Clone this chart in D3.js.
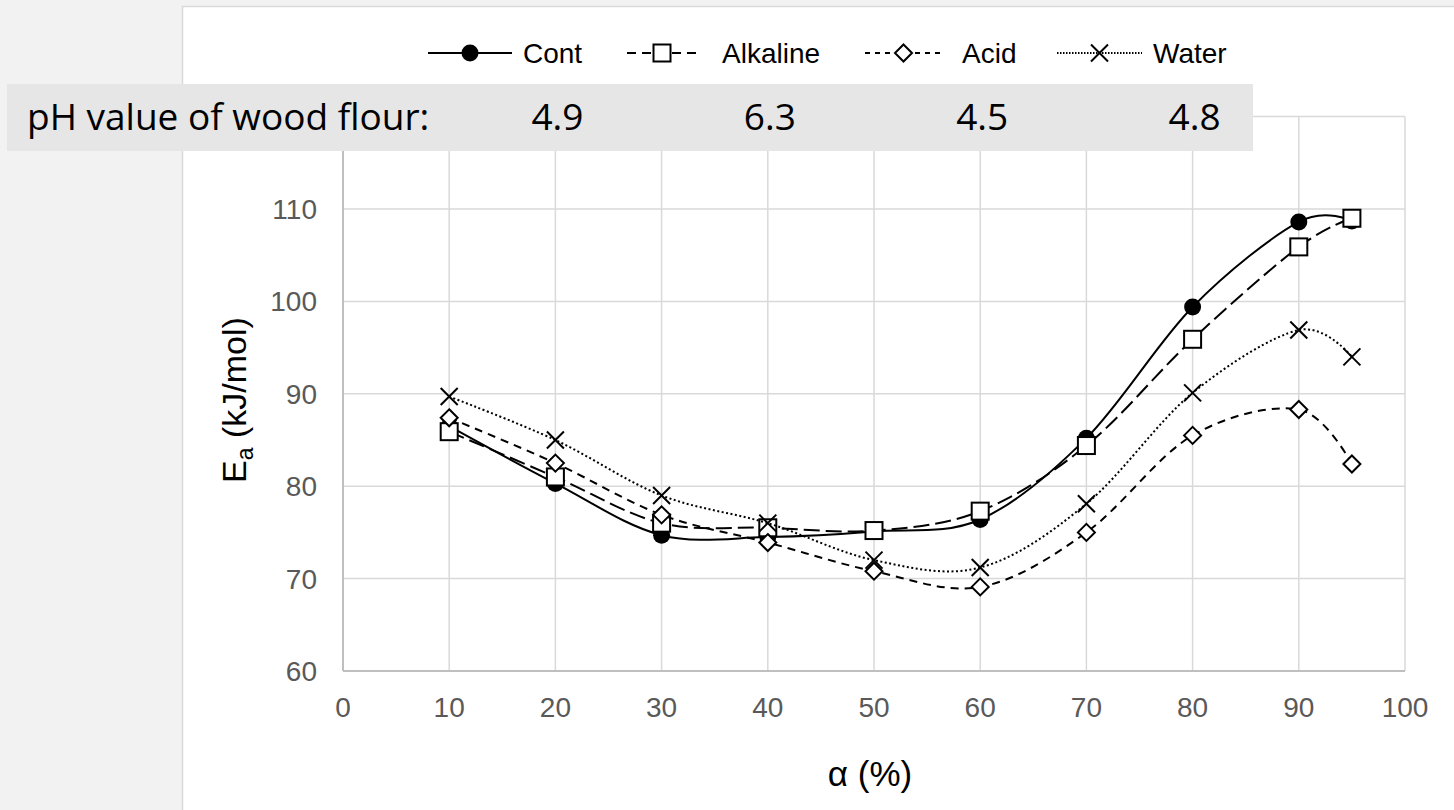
<!DOCTYPE html>
<html>
<head>
<meta charset="utf-8">
<script src="https://cdn.jsdelivr.net/npm/d3@7"></script>
<style>
  html, body { margin: 0; padding: 0; background: #f2f2f2; }
  svg { display: block; }
</style>
</head>
<body>
<div id="chart"></div>
<script>
(function () {
  "use strict";
  // conversion (%) and activation energy per treatment
  var alpha = [10, 20, 30, 40, 50, 60, 70, 80, 90, 95];
  var cont = [86.5, 80.3, 74.7, 74.5, 75.1, 76.4, 85.2, 99.4, 108.6, 108.7];
  var alkaline = [85.9, 81.0, 76.0, 75.5, 75.2, 77.3, 84.4, 95.9, 105.9, 109.0];
  var acid = [87.4, 82.5, 76.9, 73.9, 70.8, 69.1, 75.0, 85.5, 88.3, 82.4];
  var water = [89.7, 85.0, 79.0, 76.0, 72.0, 71.2, 78.1, 90.1, 96.9, 94.0];
  var xTicks = [0, 10, 20, 30, 40, 50, 60, 70, 80, 90, 100];
  var yGrid = [60, 70, 80, 90, 100, 110, 120];
  var yLabels = [60, 70, 80, 90, 100, 110]; // the 120 label sits under the pH box
  var phLabel = "pH value of wood flour:";
  var phValues = ["4.9", "6.3", "4.5", "4.8"];
  var phAt = [20, 40, 60, 80]; // each pH value sits over this alpha gridline

  var series = [
    { name: "Cont", values: cont, dash: null, legDash: null, marker: "circle" },
    { name: "Alkaline", values: alkaline, dash: "16,6", legDash: "9,6", marker: "square" },
    { name: "Acid", values: acid, dash: "8,6", legDash: "5,5", marker: "diamond" },
    { name: "Water", values: water, dash: "2,2.5", legDash: "1.5,1.5", marker: "cross" }
  ];

  var W = 1454, H = 810;
  var GRID = "#d9d9d9", AXIS = "#bfbfbf", TICK = "#595959";
  var ARIAL = "'Liberation Sans', Arial, sans-serif";
  var CAL = "'Open Sans', 'Noto Sans', sans-serif";

  var x = d3.scaleLinear().domain([0, 100]).range([343, 1405]);
  var y = d3.scaleLinear().domain([60, 120]).range([671, 116.6]);

  var svg = d3.select("#chart").append("svg").attr("width", W).attr("height", H);

  // chart frame
  svg.append("rect").attr("x", 182.5).attr("y", 6.5).attr("width", W).attr("height", H)
    .attr("fill", "#fff").attr("stroke", GRID).attr("stroke-width", 1.5);

  // gridlines
  var g = svg.append("g");
  yGrid.forEach(function (t) {
    g.append("line").attr("x1", x(0)).attr("x2", x(100)).attr("y1", y(t)).attr("y2", y(t))
      .attr("stroke", GRID).attr("stroke-width", 1.5);
  });
  xTicks.forEach(function (t) {
    g.append("line").attr("x1", x(t)).attr("x2", x(t)).attr("y1", y(60)).attr("y2", y(120))
      .attr("stroke", GRID).attr("stroke-width", 1.5);
  });
  // axis lines
  g.append("line").attr("x1", x(0)).attr("x2", x(0)).attr("y1", y(60)).attr("y2", y(120)).attr("stroke", AXIS).attr("stroke-width", 2);
  g.append("line").attr("x1", x(0)).attr("x2", x(100)).attr("y1", y(60)).attr("y2", y(60)).attr("stroke", AXIS).attr("stroke-width", 2);

  // tick labels
  xTicks.forEach(function (t) {
    g.append("text").attr("x", x(t)).attr("y", 717).attr("text-anchor", "middle")
      .attr("font-family", ARIAL).attr("font-size", 28).attr("fill", TICK).text(t);
  });
  yLabels.forEach(function (t) {
    g.append("text").attr("x", 317).attr("y", y(t) + 10).attr("text-anchor", "end")
      .attr("font-family", ARIAL).attr("font-size", 28).attr("fill", TICK).text(t);
  });

  // axis titles
  svg.append("text").attr("x", (x(0) + x(100)) / 2 - 4).attr("y", 786).attr("text-anchor", "middle")
    .attr("font-family", ARIAL).attr("font-size", 35).attr("fill", "#000").text("α (%)");
  var yt = svg.append("text").attr("transform", "translate(246," + 400 + ") rotate(-90)")
    .attr("text-anchor", "middle").attr("font-family", ARIAL).attr("font-size", 34).attr("fill", "#000");
  yt.append("tspan").text("E");
  yt.append("tspan").attr("font-size", 23).attr("dy", 7).text("a");
  yt.append("tspan").attr("dy", -7).text(" (kJ/mol)");

  function marker(sel, type, cx, cy) {
    var r = 8.5;
    if (type === "circle") {
      sel.append("circle").attr("cx", cx).attr("cy", cy).attr("r", r).attr("fill", "#000");
    } else if (type === "square") {
      sel.append("rect").attr("x", cx - r).attr("y", cy - r).attr("width", 2 * r).attr("height", 2 * r)
        .attr("fill", "#fff").attr("stroke", "#000").attr("stroke-width", 2);
    } else if (type === "diamond") {
      sel.append("path").attr("d", "M" + cx + "," + (cy - r) + "L" + (cx + r) + "," + cy + "L" + cx + "," + (cy + r) + "L" + (cx - r) + "," + cy + "Z")
        .attr("fill", "#fff").attr("stroke", "#000").attr("stroke-width", 2);
    } else {
      sel.append("path").attr("d", "M" + (cx - r) + "," + (cy - r) + "L" + (cx + r) + "," + (cy + r) + "M" + (cx + r) + "," + (cy - r) + "L" + (cx - r) + "," + (cy + r))
        .attr("fill", "none").attr("stroke", "#000").attr("stroke-width", 2);
    }
  }

  // smoothed lines + markers
  var line = d3.line().x(function (d) { return x(d[0]); }).y(function (d) { return y(d[1]); })
    .curve(d3.curveCardinal.tension(0));
  series.forEach(function (s) {
    var pts = alpha.map(function (a, i) { return [a, s.values[i]]; });
    var p = svg.append("path").attr("d", line(pts)).attr("fill", "none").attr("stroke", "#000").attr("stroke-width", 2);
    if (s.dash) p.attr("stroke-dasharray", s.dash);
    var mg = svg.append("g");
    pts.forEach(function (d) { marker(mg, s.marker, x(d[0]), y(d[1])); });
  });

  // pH box
  svg.append("rect").attr("x", 7).attr("y", 84).attr("width", 1246).attr("height", 67).attr("fill", "#e6e6e6");
  svg.append("text").attr("x", 27).attr("y", 130).attr("font-family", CAL).attr("font-size", 37).attr("fill", "#000").text(phLabel);
  phValues.forEach(function (v, i) {
    svg.append("text").attr("x", x(phAt[i]) + 2).attr("y", 130).attr("text-anchor", "middle")
      .attr("font-family", CAL).attr("font-size", 37).attr("fill", "#000").text(v);
  });

  // legend
  var legendX = [[428, 512, 523], [627, 697, 722], [865, 942, 962], [1057, 1142, 1153]];
  var ly = 53;
  series.forEach(function (s, i) {
    var L = legendX[i];
    var ln = svg.append("line").attr("x1", L[0]).attr("x2", L[1]).attr("y1", ly).attr("y2", ly)
      .attr("stroke", "#000").attr("stroke-width", 2);
    if (s.legDash) ln.attr("stroke-dasharray", s.legDash);
    marker(svg, s.marker, (L[0] + L[1]) / 2, ly);
    svg.append("text").attr("x", L[2]).attr("y", ly + 10).attr("font-family", ARIAL).attr("font-size", 28)
      .attr("fill", "#000").text(s.name);
  });
})();
</script>
</body>
</html>
